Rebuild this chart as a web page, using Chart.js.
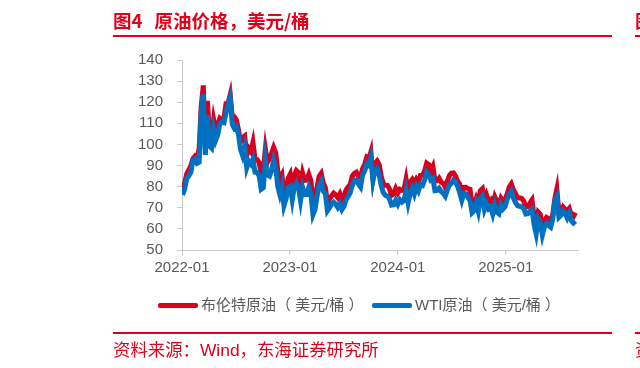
<!DOCTYPE html>
<html lang="zh-CN">
<head>
<meta charset="utf-8">
<title>原油价格</title>
<script src="https://cdn.jsdelivr.net/npm/chart.js@4.4.1/dist/chart.umd.min.js"></script>
<style>
  html, body { margin: 0; padding: 0; background: #fff; }
  body {
    width: 640px; height: 368px; position: relative; overflow: hidden;
    font-family: "Liberation Sans", "Noto Sans CJK SC", sans-serif;
  }
  #chart { position: absolute; left: 0; top: 0; }
  .title {
    position: absolute; top: 7px; font-size: 18.5px; font-weight: bold;
    color: #e3001b; line-height: 26px; white-space: nowrap;
    font-family: "Noto Sans CJK SC", sans-serif;
  }
  .title .gap { display: inline-block; width: 12px; }
  .rule { position: absolute; height: 2px; background: #e3001b; }
  .source {
    position: absolute; top: 338px; font-size: 17.4px; color: #e3001b;
    line-height: 24px; white-space: nowrap;
    font-family: "Liberation Sans", "Noto Sans CJK SC", sans-serif;
  }
  .swatch { position: absolute; top: 303px; width: 40px; height: 5px; border-radius: 2px; }
  .ltext {
    position: absolute; top: 295px; font-size: 15px; color: #595959;
    line-height: 20px; white-space: pre;
  }
</style>
</head>
<body>
<canvas id="chart" width="640" height="368"></canvas>

<div class="title" style="left:113px">图4<span class="gap"></span>原油价格，美元/桶</div>
<div class="title" style="left:635px">图5</div>
<div class="rule" style="left:113px;width:499px;top:35px"></div>
<div class="rule" style="left:635px;width:10px;top:35px"></div>

<div id="legend"></div>

<div class="rule" style="left:113px;width:499px;top:332px"></div>
<div class="rule" style="left:635px;width:10px;top:332px"></div>
<div class="source" style="left:113px">资料来源：Wind，东海证券研究所</div>
<div class="source" style="left:635px">资料来源</div>

<script>
// 周度数据，从 2022-01-03 开始每周一个点
const weekStart = "2022-01-03";

const seriesNames = ["布伦特原油（ 美元/桶 ）", "WTI原油（ 美元/桶 ）"];
const seriesColors = ["#d8001f", "#0070c0"];

const brent = [
  // 2022
  78.98, 81.75, 86.06, 87.89, 90.03, 93.27, 94.44, 93.54, 97.93, 118.11,
  127.98, 98.02, 120.65, 104.39, 102.78, 111.70, 106.65, 109.34, 112.39, 111.55,
  112.55, 119.43, 119.72, 123.58, 113.12, 113.12, 111.63, 107.02, 101.16, 103.20,
  103.97, 94.92, 98.15, 96.72, 100.99, 93.02, 92.84, 91.35, 86.15, 87.96,
  97.92, 91.63, 93.50, 95.77, 98.57, 95.99, 87.62, 83.63, 85.57, 76.10,
  79.04, 83.92, 85.91,
  // 2023
  78.57, 85.28, 87.63, 86.66, 79.94, 86.39, 83.00, 83.16, 85.83, 82.78,
  72.97, 74.99, 79.77, 84.94, 86.31, 81.66, 79.54, 72.33, 74.17, 75.58,
  76.95, 76.13, 74.79, 76.61, 73.85, 75.41, 78.47, 79.87, 81.07, 84.99,
  86.24, 86.81, 84.80, 84.48, 88.55, 90.65, 93.93, 93.27, 96.55, 84.58,
  90.89, 92.16, 90.48, 84.89, 81.43, 80.61, 80.58, 78.88, 75.84, 76.55,
  79.07, 77.04,
  // 2024
  78.76, 78.29, 78.56, 83.55, 77.33, 82.19, 83.47, 81.62, 83.55, 82.08,
  85.34, 85.43, 87.48, 91.17, 90.45, 87.29, 89.50, 82.96, 82.79, 83.98,
  82.12, 81.62, 79.62, 82.62, 85.24, 86.41, 86.54, 85.03, 82.63, 81.13,
  76.81, 79.66, 79.68, 79.02, 78.80, 71.06, 71.61, 74.49, 71.98, 78.05,
  79.04, 73.06, 76.05, 73.10, 73.87, 71.04, 75.17, 72.94, 71.12, 74.49,
  72.94, 74.17,
  // 2025
  76.51, 79.76, 81.29, 78.50, 76.76, 74.66, 74.74, 74.43, 73.18, 70.36,
  70.58, 72.16, 73.63, 65.58, 62.82, 67.96, 66.87, 60.23, 63.91, 65.41,
  64.78, 63.90, 66.47, 74.23, 78.85, 67.77, 68.30, 70.36, 69.28, 68.44,
  69.67, 66.59, 65.85, 67.73
];

const wti = [
  // 2022
  76.08, 78.90, 83.82, 85.14, 86.82, 92.31, 93.10, 91.07, 91.59, 115.68,
  123.70, 95.04, 113.90, 99.27, 98.26, 106.95, 102.07, 104.69, 109.77, 110.49,
  110.28, 115.07, 118.87, 122.11, 109.56, 107.62, 108.43, 104.79, 97.59, 94.70,
  98.62, 89.01, 92.09, 90.77, 93.06, 86.87, 86.79, 85.11, 78.74, 79.49,
  92.64, 85.61, 85.05, 87.90, 92.61, 88.96, 80.08, 76.28, 79.98, 71.02,
  74.29, 79.56, 80.26,
  // 2023
  73.77, 79.86, 81.64, 79.68, 73.39, 79.72, 76.34, 76.32, 79.68, 76.68,
  66.74, 69.26, 75.67, 80.70, 82.52, 77.87, 76.78, 68.60, 70.04, 71.69,
  72.67, 71.74, 70.17, 71.78, 69.16, 70.64, 73.86, 75.42, 77.07, 80.58,
  82.82, 83.19, 81.25, 79.83, 85.55, 87.51, 90.77, 90.03, 93.68, 82.79,
  87.69, 88.75, 85.54, 80.51, 77.17, 75.89, 75.54, 74.07, 71.23, 71.43,
  73.56, 71.65,
  // 2024
  73.81, 72.68, 73.41, 78.01, 72.28, 76.84, 79.19, 76.49, 79.97, 78.01,
  81.04, 80.63, 83.17, 86.91, 85.66, 83.14, 83.85, 78.11, 78.26, 79.23,
  77.72, 76.99, 75.53, 78.45, 80.73, 81.54, 83.16, 82.21, 80.13, 77.16,
  73.52, 76.84, 76.65, 74.83, 73.55, 67.67, 68.65, 71.92, 68.18, 74.38,
  75.56, 69.22, 71.78, 69.49, 70.38, 67.02, 71.24, 68.00, 67.20, 71.29,
  69.46, 70.60,
  // 2025
  73.96, 76.57, 77.88, 74.66, 72.53, 71.00, 70.74, 70.40, 69.76, 67.04,
  67.18, 68.28, 69.36, 61.99, 57.58, 64.68, 63.02, 57.13, 61.02, 62.49,
  61.53, 60.79, 64.58, 72.98, 75.14, 65.52, 66.50, 68.45, 67.34, 65.16,
  67.33, 63.88, 62.80, 63.66
];

const yearTicks = [2022, 2023, 2024, 2025];
const yTicks = { min: 50, max: 140, step: 10 };

const axisColor = "#c9c9c9";
const tickFont = { family: "'Liberation Sans', Arial, sans-serif", size: 15 };
const tickColor = "#595959";

// 日期 -> 年份小数，方便在线性轴上按年刻度
function toYearFrac(d) {
  const y = d.getUTCFullYear();
  const a = Date.UTC(y, 0, 1);
  const b = Date.UTC(y + 1, 0, 1);
  return y + (d.getTime() - a) / (b - a);
}

function weekX(i) {
  const d = new Date(weekStart + "T00:00:00Z");
  d.setUTCDate(d.getUTCDate() + 7 * i);
  return toYearFrac(d);
}

function toPoints(values) {
  return values.map((v, i) => ({ x: weekX(i), y: v }));
}

function criarLegenda() {
  const box = document.getElementById("legend");
  const swatchLeft = [158, 372];
  const textLeft = [201, 415];
  seriesNames.forEach((nome, i) => {
    box.innerHTML += `
      <div class="swatch" style="left:${swatchLeft[i]}px;background:${seriesColors[i]}"></div>
      <div class="ltext" style="left:${textLeft[i]}px">${nome}</div>
    `;
  });
}

criarLegenda();

const ctx = document.getElementById("chart").getContext("2d");

new Chart(ctx, {
  type: "line",
  data: {
    datasets: [
      {
        label: seriesNames[0],
        data: toPoints(brent),
        borderColor: seriesColors[0],
        borderWidth: 5,
        pointRadius: 0,
        tension: 0,
        order: 2,
      },
      {
        label: seriesNames[1],
        data: toPoints(wti),
        borderColor: seriesColors[1],
        borderWidth: 5,
        pointRadius: 0,
        tension: 0,
        order: 1,
      },
    ],
  },
  options: {
    responsive: false,
    animation: false,
    layout: { padding: { left: 138, top: 60, right: 62, bottom: 88 } },
    plugins: {
      legend: { display: false },
      tooltip: { enabled: false },
    },
    scales: {
      x: {
        type: "linear",
        min: 2022,
        max: 2025.67,
        afterBuildTicks: (scale) => {
          scale.ticks = yearTicks.map((v) => ({ value: v }));
        },
        afterFit: (scale) => {
          scale.height = 30;
        },
        grid: { drawOnChartArea: false, tickLength: 5, color: axisColor },
        border: { color: axisColor },
        ticks: {
          padding: 4,
          maxRotation: 0,
          autoSkip: false,
          font: tickFont,
          color: tickColor,
          callback: (v) => `${v}-01`,
        },
      },
      y: {
        min: yTicks.min,
        max: yTicks.max,
        afterFit: (scale) => {
          scale.width = 44;
        },
        grid: { drawOnChartArea: false, tickLength: 5, color: axisColor },
        border: { color: axisColor },
        ticks: {
          stepSize: yTicks.step,
          padding: 14,
          font: tickFont,
          color: tickColor,
        },
      },
    },
  },
});
</script>
</body>
</html>
